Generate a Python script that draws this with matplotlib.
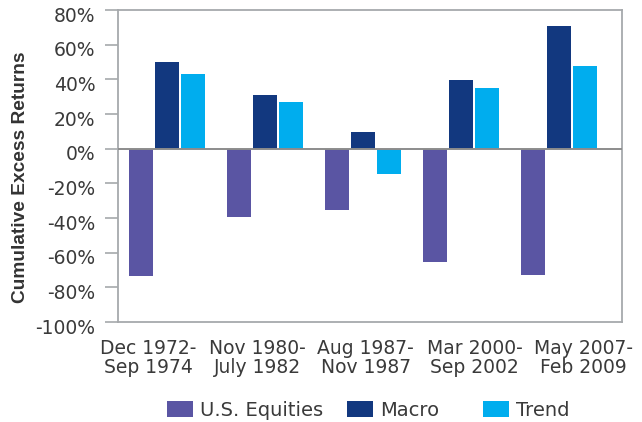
import numpy as np
import matplotlib
matplotlib.use("Agg")
import matplotlib.pyplot as plt
from matplotlib.transforms import ScaledTranslation

periods = ["Dec 1972-\nSep 1974", "Nov 1980-\nJuly 1982", "Aug 1987-\nNov 1987",
           "Mar 2000-\nSep 2002", "May 2007-\nFeb 2009"]
series_names = ["U.S. Equities", "Macro", "Trend"]
equities = [-73.5, -39.5, -35.5, -65.5, -73.0]
macro = [50.0, 31.0, 9.5, 39.5, 70.5]
trend = [43.0, 27.0, -14.5, 35.0, 47.5]
yticks = [-100, -80, -60, -40, -20, 0, 20, 40, 60, 80]
colors = ["#5a55a3", "#12387f", "#00adee"]

plt.rcParams['font.family'] = ['DejaVu Sans']
fig = plt.figure(figsize=(6.42, 4.22), dpi=100)
W, H = 642, 422
ax = fig.add_axes([118 / W, 1 - 322 / H, (622 - 118) / W, (322 - 10) / H])

x = np.arange(len(periods))
bw = 0.245
off = 0.265
bars = []
for i, (vals, c, name) in enumerate(zip([equities, macro, trend], colors, series_names)):
    b = ax.bar(x + (i - 1) * off, vals, width=bw, color=c, label=name, zorder=2)
    bars.append(b)

ax.axhline(0, color="#8c8c8c", lw=1.4, zorder=3)
ax.set_xlim(-0.5, 4.64)
ax.set_ylim(-100, 80)
ax.set_yticks(yticks)
ax.set_yticklabels([f"{v}%" for v in yticks])

label_pos = np.arange(len(periods)) * 1.1085 - 0.19
ax.set_xticks(label_pos)
ax.set_xticklabels(periods, linespacing=1.05)

for s in ax.spines.values():
    s.set_color("#a6a9ac")
    s.set_linewidth(1.3)

ax.tick_params(axis="y", length=9.4, width=1.2, color="#a6a9ac", pad=7,
               labelsize=13.5, labelcolor="#3a3a3a")
ax.tick_params(axis="x", length=0, pad=12, labelsize=13.5, labelcolor="#3a3a3a")

offset = ScaledTranslation(0, -3 / 72, fig.dpi_scale_trans)
for lbl in ax.get_yticklabels():
    lbl.set_transform(lbl.get_transform() + offset)

fig.text(21 / W, 1 - 177 / H, "Cumulative Excess Returns", rotation=90,
         ha="center", va="center", fontsize=13.8, fontweight="bold",
         color="#333333", family=["Liberation Sans", "DejaVu Sans"])

leg_x = [167, 347, 483]
for b, name, lx in zip(bars, series_names, leg_x):
    fig.legend([b], [name], loc="center left", bbox_to_anchor=(lx / W, 1 - 410 / H),
               frameon=False, borderpad=0, borderaxespad=0, handlelength=1.33,
               handleheight=0.88, handletextpad=0.38, fontsize=14,
               labelcolor="#3a3a3a")

fig.savefig("out.png", dpi=100)
